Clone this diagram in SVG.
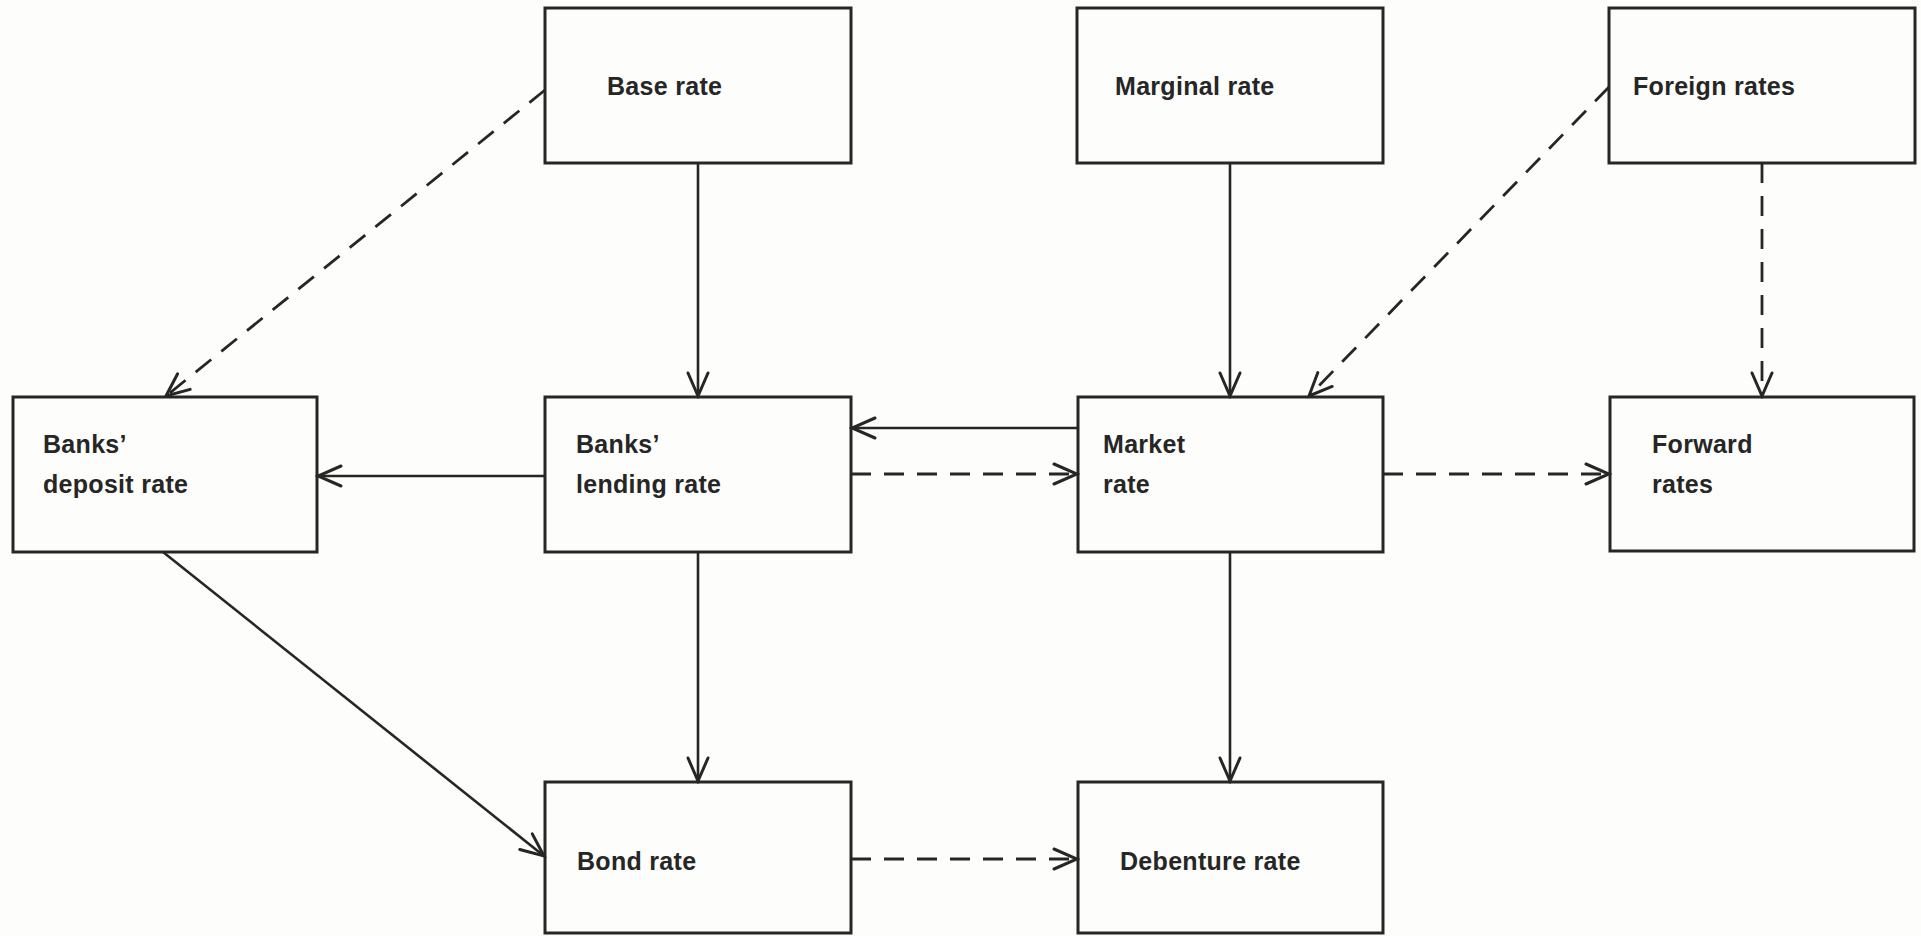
<svg xmlns="http://www.w3.org/2000/svg" width="1921" height="936" viewBox="0 0 1921 936">
  <style>
    .box { fill: none; stroke: #262626; stroke-width: 3; }
    .lbl { font-family: "Liberation Sans", Arial, sans-serif; font-weight: bold; font-size: 25px; letter-spacing: 0.3px; fill: #262626; }
    .solid { fill: none; stroke: #262626; stroke-width: 2.6; marker-end: url(#arr); }
    .dash { fill: none; stroke: #262626; stroke-width: 2.8; stroke-dasharray: 20 13; marker-end: url(#arr); }
  </style>
  <defs>
    <marker id="arr" markerUnits="userSpaceOnUse" viewBox="0 0 28 28" markerWidth="28" markerHeight="28" refX="25" refY="14" orient="auto">
      <path d="M2,4 L25,14 L2,24" fill="none" stroke="#262626" stroke-width="3" stroke-linecap="round" stroke-linejoin="miter"/>
    </marker>
  </defs>
  <rect x="0" y="0" width="1921" height="936" fill="#fdfdfb"/>

  <g id="connectors">
    <line class="dash" x1="545" y1="90" x2="166" y2="396"/>
    <line class="solid" x1="698" y1="163" x2="698" y2="396"/>
    <line class="solid" x1="1230" y1="163" x2="1230" y2="396"/>
    <line class="dash" x1="1609" y1="87" x2="1309" y2="396"/>
    <line class="dash" x1="1762" y1="163" x2="1762" y2="396"/>
    <line class="solid" x1="545" y1="476" x2="318" y2="476"/>
    <line class="solid" x1="1078" y1="428" x2="852" y2="428"/>
    <line class="dash" x1="851" y1="474" x2="1077" y2="474"/>
    <line class="dash" x1="1383" y1="474" x2="1609" y2="474"/>
    <line class="solid" x1="163" y1="552" x2="544" y2="856"/>
    <line class="solid" x1="698" y1="552" x2="698" y2="781"/>
    <line class="solid" x1="1230" y1="552" x2="1230" y2="781"/>
    <line class="dash" x1="851" y1="859" x2="1077" y2="859"/>
  </g>

  <g id="base-rate">
    <rect class="box" x="545" y="8" width="306" height="155"/>
    <text class="lbl" x="607" y="95">Base rate</text>
  </g>
  <g id="marginal-rate">
    <rect class="box" x="1077" y="8" width="306" height="155"/>
    <text class="lbl" x="1115" y="95">Marginal rate</text>
  </g>
  <g id="foreign-rates">
    <rect class="box" x="1609" y="8" width="306" height="155"/>
    <text class="lbl" x="1633" y="95">Foreign rates</text>
  </g>
  <g id="banks-deposit-rate">
    <rect class="box" x="13" y="397" width="304" height="155"/>
    <text class="lbl" x="43" y="453">Banks’</text>
    <text class="lbl" x="43" y="493">deposit rate</text>
  </g>
  <g id="banks-lending-rate">
    <rect class="box" x="545" y="397" width="306" height="155"/>
    <text class="lbl" x="576" y="453">Banks’</text>
    <text class="lbl" x="576" y="493">lending rate</text>
  </g>
  <g id="market-rate">
    <rect class="box" x="1078" y="397" width="305" height="155"/>
    <text class="lbl" x="1103" y="453">Market</text>
    <text class="lbl" x="1103" y="493">rate</text>
  </g>
  <g id="forward-rates">
    <rect class="box" x="1610" y="397" width="304" height="154"/>
    <text class="lbl" x="1652" y="453">Forward</text>
    <text class="lbl" x="1652" y="493">rates</text>
  </g>
  <g id="bond-rate">
    <rect class="box" x="545" y="782" width="306" height="151"/>
    <text class="lbl" x="577" y="870">Bond rate</text>
  </g>
  <g id="debenture-rate">
    <rect class="box" x="1078" y="782" width="305" height="151"/>
    <text class="lbl" x="1120" y="870">Debenture rate</text>
  </g>
</svg>
